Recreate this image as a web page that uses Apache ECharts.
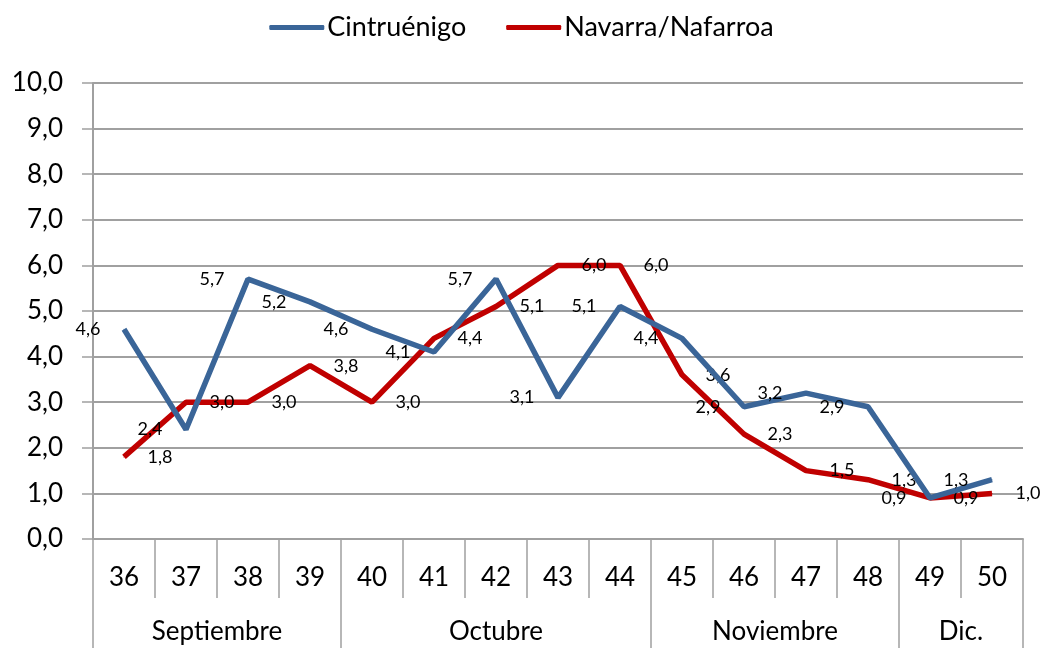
<!DOCTYPE html>
<html><head><meta charset="utf-8">
<script src="https://cdn.jsdelivr.net/npm/echarts@6/dist/echarts.min.js"></script>
<style>html,body{margin:0;padding:0;background:#fff}#c{width:1043px;height:648px}</style>
</head><body><div id="c"></div>
<script>
const weeks = ['36','37','38','39','40','41','42','43','44','45','46','47','48','49','50'];
const months = ['Septiembre','Octubre','Noviembre','Dic.'];
const weeksPerMonth = [4,5,4,2];
const cintruenigo = [4.6,2.4,5.7,5.2,4.6,4.1,5.7,3.1,5.1,4.4,2.9,3.2,2.9,0.9,1.3];
const navarra = [1.8,3.0,3.0,3.8,3.0,4.4,5.1,6.0,6.0,3.6,2.3,1.5,1.3,0.9,1.0];
const yTicks = {min:0, max:10, interval:1};

const bounds=[0]; weeksPerMonth.forEach(n=>bounds.push(bounds[bounds.length-1]+n));
const centers = weeksPerMonth.map((n,i)=>bounds[i]+n/2);
const FONT='Lato';
const fmt = v => Number(v).toFixed(1).replace('.',',');
const chart = echarts.init(document.getElementById('c'));
chart.setOption({
  animation:false,
  textStyle:{fontFamily:FONT,color:'#000'},
  legend:{top:9,left:'center',itemWidth:55,itemHeight:5,itemGap:40,
    textStyle:{fontFamily:FONT,fontSize:27,color:'#000',padding:[0,0,0,-2]},
    data:[{name:'Cintruénigo',icon:'roundRect'},{name:'Navarra/Nafarroa',icon:'roundRect'}]},
  grid:{left:93,right:20,top:83,bottom:109,containLabel:false},
  xAxis:[{
    type:'category',data:weeks,boundaryGap:true,position:'bottom',
    axisLine:{show:true,lineStyle:{color:'#A0A0A0',width:2}},
    axisTick:{show:true,interval:0,length:59,lineStyle:{color:'#A0A0A0',width:1.5}},
    axisLabel:{interval:0,margin:26,fontSize:26,fontFamily:FONT,color:'#000'}
  },{
    type:'value',min:0,max:15,position:'bottom',
    axisLine:{show:false},splitLine:{show:false},
    axisTick:{show:true,customValues:bounds,length:109,lineStyle:{color:'#A0A0A0',width:1.5}},
    axisLabel:{show:true,customValues:centers,margin:80,fontSize:26,fontFamily:FONT,color:'#000',
      formatter:v=>{const i=centers.indexOf(v);return i>=0?months[i]:'';}}
  }],
  yAxis:{type:'value',min:yTicks.min,max:yTicks.max,interval:yTicks.interval,
    axisLine:{show:true,lineStyle:{color:'#A0A0A0',width:2}},
    axisTick:{show:true,length:11,lineStyle:{color:'#A0A0A0',width:1.5}},
    splitLine:{show:true,lineStyle:{color:'#A0A0A0',width:2}},
    axisLabel:{fontSize:26,fontFamily:FONT,color:'#000',margin:30,formatter:fmt}},
  series:[{
    name:'Cintruénigo',type:'line',data:cintruenigo,showSymbol:true,symbol:'circle',symbolSize:1,
    lineStyle:{color:'#3A6598',width:5.5},itemStyle:{color:'#3A6598'},
    label:{show:true,position:'left',distance:23,fontSize:18,fontFamily:FONT,color:'#000',
      formatter:p=>fmt(p.value)},z:3
  },{
    name:'Navarra/Nafarroa',type:'line',data:navarra,showSymbol:true,symbol:'circle',symbolSize:1,
    lineStyle:{color:'#C00000',width:5.5},itemStyle:{color:'#C00000'},
    label:{show:true,position:'right',distance:23,fontSize:18,fontFamily:FONT,color:'#000',
      formatter:p=>fmt(p.value)},z:2
  }]
});
</script></body></html>
